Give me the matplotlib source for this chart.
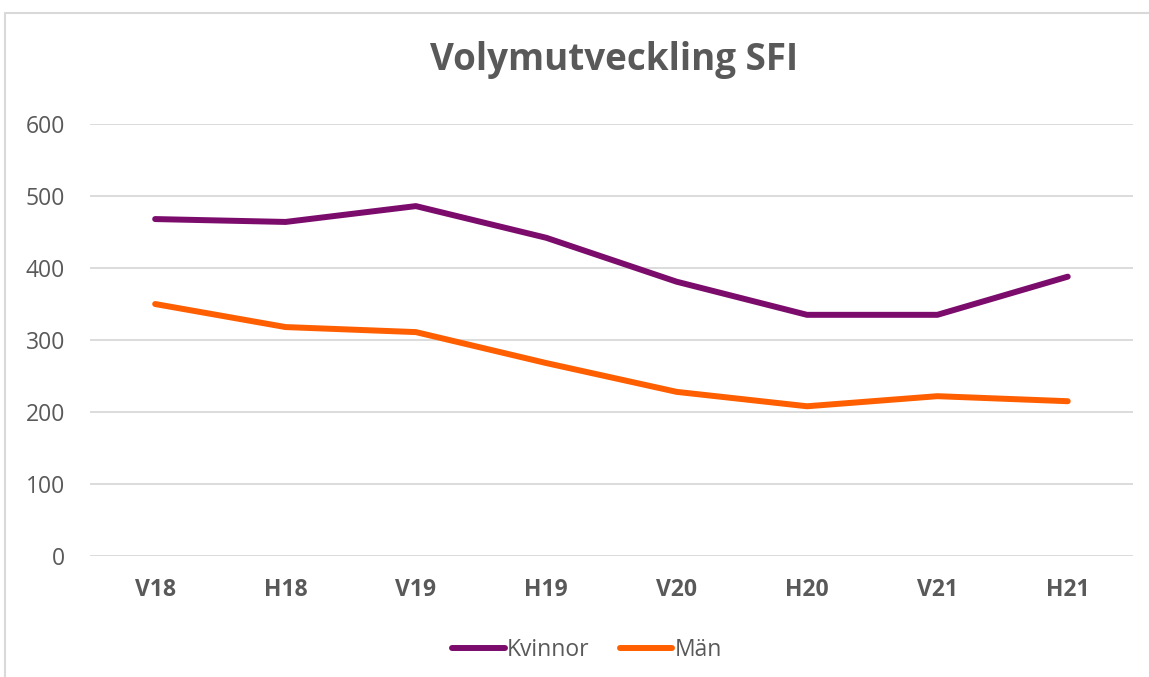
"""Volymutveckling SFI - line chart."""

import matplotlib.pyplot as plt
from matplotlib.patches import Rectangle

categories = ["V18", "H18", "V19", "H19", "V20", "H20", "V21", "H21"]
kvinnor = [468, 464, 486, 442, 381, 335, 335, 388]
man = [350, 318, 311, 268, 228, 208, 222, 215]

plt.rcParams["font.family"] = ["Open Sans", "DejaVu Sans"]
TEXT = "#595959"

fig = plt.figure(figsize=(11.49, 6.77), dpi=100)
ax = fig.add_axes([0.0783, 0.1787, 0.9077, 0.6381])

x = range(len(categories))
ax.plot(x, kvinnor, color="#7B0C6C", lw=4.3, solid_capstyle="round",
        solid_joinstyle="round", label="Kvinnor")
ax.plot(x, man, color="#FF5F00", lw=4.3, solid_capstyle="round",
        solid_joinstyle="round", label="Män")

ax.set_xlim(-0.5, len(categories) - 0.5)
ax.set_ylim(0, 600)
ax.set_yticks(range(0, 601, 100))
ax.set_xticks(list(x))
ax.set_xticklabels(categories, fontweight="bold")
ax.grid(axis="y", color="#D9D9D9", lw=1.3)
ax.set_axisbelow(True)
for s in ax.spines.values():
    s.set_visible(False)
ax.tick_params(length=0, labelsize=16.5, colors=TEXT)
ax.tick_params(axis="y", pad=18)
ax.tick_params(axis="x", pad=16)

fig.text(0.534, 0.912, "Volymutveckling SFI", ha="center", va="center",
         fontsize=26.5, fontweight="bold", color=TEXT)

leg = fig.legend(loc="center", bbox_to_anchor=(0.511, 0.04), ncol=2,
                 frameon=False, fontsize=16.5, handlelength=2.3,
                 handletextpad=0.1, columnspacing=1.3)
for t in leg.get_texts():
    t.set_color(TEXT)

fig.patches.append(Rectangle((5 / 1149, -0.1), 1.2, 1 - 13 / 677 + 0.1,
                             transform=fig.transFigure, fill=False,
                             edgecolor="#D9D9D9", lw=1.5))

fig.savefig("out.png", dpi=100)
plt.close(fig)
